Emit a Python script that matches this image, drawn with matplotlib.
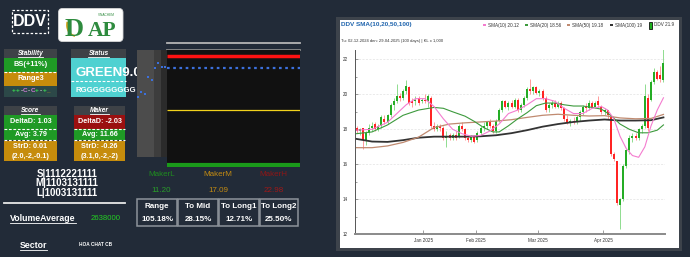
import matplotlib
matplotlib.use('Agg')
import matplotlib.pyplot as plt
from matplotlib.patches import Rectangle, FancyBboxPatch, Arc
import numpy as np

plt.rcParams['font.family'] = ['Liberation Sans', 'DejaVu Sans']

# ---------------- data ----------------
ticker = 'DDV'
stability_lines = ['BS(+11%)', 'Range3']
stability_code = '++-C-C+-+_'
status_main = 'GREEN9.0'
status_seq = 'RGGGGGGGGG'
score_lines = ['DeltaD: 1.03', 'Avg: 3.79', 'StrD: 0.01', '(2.0,-2,-0.1)']
maker_lines = ['DeltaD: -2.03', 'Avg: 11.66', 'StrD: -0.26', '(3.1,0,-2,-2)']
sml_lines = ['S|1112221111', 'M|1103131111', 'L|1003131111']
volume_average = '2638000'
sector = 'HOA CHAT CB'

maker_names = ['MakerL', 'MakerM', 'MakerH']
maker_values = [11.20, 17.09, 22.98]
current_price = 21.66
recent_prices = [18.53, 19.07, 18.85, 20.69, 20.36, 21.65, 22.19, 21.76, 21.76]

table_headers = ['Range', 'To Mid', 'To Long1', 'To Long2']
table_values = ['105.18%', '28.15%', '12.71%', '25.50%']

month_labels = ['Jan 2025', 'Feb 2025', 'Mar 2025', 'Apr 2025']
month_start_idx = [22, 39, 59, 80]

opens = [18.1, 17.9, 18.1, 17.4, 17.8, 18.1, 18.3, 18.0, 18.2, 18.6,
         18.4, 18.8, 19.4, 19.6, 19.9, 19.8, 20.2, 20.4, 19.6, 19.6,
         19.8, 19.6, 19.7, 19.6, 19.8, 18.2, 18.0, 18.2, 18.1, 17.5,
         17.7, 17.5, 17.7, 17.6, 18.2, 18.0, 17.5, 17.4, 17.6, 17.4,
         17.8, 18.1, 18.2, 18.4, 18.2, 17.9, 18.5, 19.1, 19.6, 19.3,
         19.5, 19.3, 19.7, 19.1, 19.4, 19.8, 20.3, 20.2, 20.4, 20.1,
         20.2, 19.8, 19.2, 19.4, 19.5, 19.3, 19.5, 19.2, 18.6, 18.4,
         18.5, 18.4, 18.7, 19.0, 19.3, 19.2, 19.5, 19.3, 19.6, 19.3,
         19.0, 19.1, 18.7, 16.6, 16.2, 13.7, 14.0, 15.9, 16.8, 17.5,
         17.6, 17.5, 18.0, 18.2, 19.8, 19.7, 20.7, 21.3, 21.1, 20.8]
highs = [18.2, 18.1, 18.1, 17.9, 18.3, 18.4, 18.4, 18.3, 18.8, 18.8,
         18.9, 19.5, 19.8, 20.6, 20.1, 20.3, 20.8, 20.5, 19.8, 19.9,
         19.9, 19.8, 20.0, 20.0, 19.9, 18.4, 18.3, 18.3, 18.2, 17.9,
         17.8, 17.8, 17.9, 18.3, 18.4, 18.1, 17.7, 17.7, 17.7, 17.9,
         18.2, 18.4, 18.5, 18.6, 18.3, 18.6, 19.2, 19.7, 19.7, 19.6,
         19.7, 19.8, 19.8, 19.5, 19.9, 20.4, 20.9, 20.5, 20.5, 20.3,
         20.3, 19.9, 19.5, 19.7, 19.7, 19.6, 19.6, 19.3, 18.8, 18.6,
         18.7, 18.8, 19.1, 19.4, 19.5, 19.7, 19.6, 19.6, 19.9, 19.4,
         19.2, 19.1, 18.7, 16.7, 16.2, 14.1, 16.0, 16.9, 17.7, 17.8,
         17.8, 18.1, 18.3, 20.6, 20.0, 20.8, 21.5, 21.4, 21.6, 22.6]
lows = [17.8, 17.7, 16.9, 17.1, 17.7, 17.9, 17.9, 17.9, 18.1, 18.3,
        18.3, 18.7, 19.1, 19.5, 19.6, 19.7, 20.0, 19.4, 19.3, 19.4,
        19.4, 19.5, 19.5, 19.3, 18.1, 17.9, 17.9, 17.9, 17.4, 17.0,
        17.4, 17.4, 17.4, 17.5, 17.9, 17.4, 17.3, 17.3, 17.2, 17.3,
        17.6, 17.9, 18.0, 18.1, 17.8, 17.8, 18.4, 19.0, 19.2, 19.1,
        19.2, 19.2, 19.0, 19.0, 19.3, 19.7, 20.0, 20.0, 20.0, 19.9,
        19.7, 19.0, 19.0, 19.2, 19.2, 19.2, 19.1, 18.5, 18.3, 18.2,
        18.3, 18.3, 18.5, 18.8, 19.0, 19.1, 19.2, 19.2, 19.3, 18.9,
        18.8, 18.6, 16.5, 16.2, 13.7, 12.3, 13.9, 15.8, 16.6, 17.3,
        17.4, 17.4, 17.8, 18.1, 17.9, 19.6, 20.6, 20.8, 20.7, 20.7]
closes = [17.9, 18.0, 17.4, 17.8, 18.1, 18.2, 18.0, 18.2, 18.7, 18.4,
          18.8, 19.4, 19.6, 19.9, 19.8, 20.2, 20.5, 19.5, 19.5, 19.7,
          19.5, 19.7, 19.6, 19.9, 18.2, 18.0, 18.2, 18.1, 17.5, 17.6,
          17.5, 17.7, 17.5, 18.2, 18.0, 17.5, 17.4, 17.6, 17.3, 17.8,
          18.1, 18.2, 18.4, 18.2, 17.9, 18.5, 19.1, 19.6, 19.3, 19.5,
          19.3, 19.7, 19.1, 19.4, 19.8, 20.3, 20.2, 20.4, 20.1, 20.2,
          19.8, 19.1, 19.4, 19.5, 19.3, 19.5, 19.2, 18.6, 18.4, 18.5,
          18.4, 18.7, 19.0, 19.3, 19.2, 19.5, 19.3, 19.5, 19.4, 19.0,
          19.1, 18.8, 16.6, 16.3, 13.8, 14.0, 15.9, 16.8, 17.5, 17.6,
          17.5, 18.0, 18.2, 19.9, 18.1, 20.7, 21.3, 20.9, 20.9, 21.8]

sma10_idx = [0, 5, 10, 13, 16, 19, 22, 25, 28, 31, 34, 37, 40, 43, 46, 49, 52, 55,
             58, 61, 64, 67, 70, 73, 76, 79, 81, 83, 85, 87, 89, 91, 93, 95, 97, 99]
sma10 = [17.95, 18.0, 18.4, 18.9, 19.4, 19.75, 19.75, 19.3, 18.6, 18.0, 17.75, 17.6,
         17.65, 17.9, 18.3, 18.9, 19.1, 19.4, 19.75, 19.75, 19.6, 19.2, 18.9, 18.9,
         19.2, 19.3, 19.1, 18.6, 17.6, 16.9, 16.5, 16.4, 17.0, 18.2, 19.1, 19.8]
sma20_idx = [0, 5, 10, 15, 20, 25, 28, 31, 35, 38, 41, 44, 46, 49, 52, 55, 58, 61,
             64, 67, 70, 73, 76, 79, 82, 85, 88, 91, 94, 97, 99]
sma20 = [17.75, 17.85, 18.25, 18.8, 19.1, 19.25, 19.2, 19.0, 18.75, 18.45, 18.1,
         17.85, 17.85, 18.2, 18.6, 18.95, 19.35, 19.5, 19.5, 19.4, 19.33, 19.33,
         19.25, 19.15, 18.8, 18.3, 18.0, 17.8, 17.8, 17.95, 18.25]
sma50_idx = [0, 5, 10, 15, 20, 25, 30, 35, 40, 45, 50, 55, 60, 65, 70, 75, 80, 85,
             90, 95, 99]
sma50 = [16.95, 16.95, 17.05, 17.25, 17.55, 18.1, 18.3, 18.37, 18.42, 18.47, 18.55,
         18.68, 18.8, 18.86, 18.8, 18.76, 18.78, 18.65, 18.6, 18.62, 18.85]
sma100_idx = sma50_idx
sma100 = [17.45, 17.3, 17.28, 17.38, 17.52, 17.58, 17.58, 17.58, 17.6, 17.66, 17.78,
          17.95, 18.15, 18.3, 18.42, 18.5, 18.56, 18.5, 18.5, 18.52, 18.68]
legend_labels = ['SMA(10) 20.12', 'SMA(20) 18.56', 'SMA(50) 19.18', 'SMA(100) 19', 'DDV 21.9']

# ---------------- figure ----------------
W, H = 690, 257
BG = '#222b38'
fig = plt.figure(figsize=(6.9, 2.57), dpi=100)
fig.patch.set_facecolor(BG)
ax0 = fig.add_axes([0, 0, 1, 1])
ax0.set_xlim(0, W)
ax0.set_ylim(H, 0)
ax0.axis('off')

def fax(x0, y0, x1, y1):
    return fig.add_axes([x0 / W, 1 - y1 / H, (x1 - x0) / W, (y1 - y0) / H])

def rect(x0, y0, x1, y1, fc, ec='none', lw=0, z=1, **kw):
    r = Rectangle((x0, y0), x1 - x0, y1 - y0, facecolor=fc, edgecolor=ec, lw=lw, zorder=z, **kw)
    ax0.add_patch(r)
    return r

def txt(x, y, s, size=6, color='white', weight='bold', ha='center', **kw):
    return ax0.text(x, y, s, fontsize=size, color=color, fontweight=weight, ha=ha,
                    va='center', zorder=5, **kw)

def dash(x0, x1, y):
    ax0.plot([x0, x1], [y, y], color='white', lw=0.8, ls=(0, (2.5, 1.5)), zorder=4)

underlines = []

# ticker box
rect(12, 10, 47.5, 33, 'none', ec='white', lw=0.9, z=3, ls=(0, (2, 1.5)))
txt(29.8, 21.5, ticker, size=11.5)

# logo
logo = FancyBboxPatch((58.5, 8.5), 64.5, 33, boxstyle='round,pad=0,rounding_size=4',
                      facecolor='white', edgecolor='#d8d8d8', lw=0.6, zorder=2)
ax0.add_patch(logo)
ax0.add_patch(Arc((76, 25), 18, 22, theta1=95, theta2=200, color='#d4a017', lw=1.3, zorder=3))
txt(74.5, 29, 'D', size=19, color='#2e8b3e', family='Liberation Serif')
txt(102.5, 31.5, 'AP', size=15.5, color='#2e8b3e', family='Liberation Serif')
txt(106, 15.5, 'VINACHEM', size=2.3, color='#2e8b3e', weight='normal')

# Stability block
rect(4, 49, 57, 57.5, '#3e4247')
t = txt(30.5, 53.2, 'Stability', size=4.8, style='italic'); underlines.append(t)
rect(4, 57.5, 57, 71.5, '#1f9a25')
txt(30.5, 64.5, stability_lines[0], size=5.3)
dash(4, 57, 71.5)
rect(4, 72, 57, 85.5, '#c68c0c')
txt(30.5, 78.8, stability_lines[1], size=5.3)
rect(4, 85.5, 57, 96.5, '#2c4848')
code_colors = {'+': '#39d353', '-': '#c8c8c8', 'C': '#d27ad8', '_': '#e6a21c'}
for i, ch in enumerate(stability_code):
    txt(14 + i * 3.8, 90.5, ch, size=4.6, color=code_colors[ch])

# Status block
rect(71, 49, 126, 57.5, '#3e4247')
t = txt(98.5, 53.2, 'Status', size=4.8, style='italic'); underlines.append(t)
sbox = rect(71, 57.5, 126, 96.5, '#4fd1d1')
t1 = txt(76, 72.5, status_main, size=9.5, ha='left')
t1.set_clip_path(sbox)
dash(71, 126, 81)
t2 = txt(75, 90, status_seq, size=5.6, ha='left')
t2.set_clip_path(sbox)

# Score / Maker blocks
def score_block(x0, x1, title, lines, first_color):
    cx = (x0 + x1) / 2
    rect(x0, 106, x1, 115, '#3e4247')
    t = txt(cx, 110.5, title, size=4.8, style='italic'); underlines.append(t)
    rect(x0, 115, x1, 128.5, first_color)
    txt(cx, 121.8, lines[0], size=5.2)
    dash(x0, x1, 128.5)
    rect(x0, 129, x1, 140, '#1f9a25')
    txt(cx, 134.5, lines[1], size=5.2)
    dash(x0, x1, 140.3)
    rect(x0, 140.8, x1, 161, '#c68c0c')
    txt(cx, 146.5, lines[2], size=5.2)
    txt(cx, 156.3, lines[3], size=5.2)

score_block(4, 57, 'Score', score_lines, '#1f9a25')
score_block(74, 125, 'Maker', maker_lines, '#9b1010')

# S/M/L
for i, s in enumerate(sml_lines):
    txt(67, 173.8 + i * 9.6, s, size=7.0)
ax0.plot([4, 125], [203.3, 203.3], color='#e8e8e8', lw=1.3, zorder=3)

t = txt(43, 218.3, 'VolumeAverage', size=6.3); underlines.append(t)
txt(106, 218.3, volume_average, size=5.6, color='#22d022', weight='normal')
t = txt(33.5, 245, 'Sector', size=6.3); underlines.append(t)
txt(96, 245, sector, size=3.4)

# ---------------- middle ladder ----------------
ax0.plot([167, 300], [43, 43], color='#b5b5b5', lw=1.3, zorder=3)
ax0.plot([167, 300], [50.3, 50.3], color='#8c8c8c', lw=1.3, zorder=3)

axl = fax(137, 50, 300, 167)
axl.set_xlim(137, 300)
axl.set_ylim(10.98, 23.59)
axl.axis('off')
axl.patch.set_alpha(0)
xt = axl.get_xaxis_transform()
axl.add_patch(Rectangle((167, 0), 133, 1, transform=xt, facecolor='#111111', zorder=0))
axl.add_patch(Rectangle((137, 0.085), 17, 0.915, transform=xt, facecolor='#4c4c4c', zorder=0))
axl.add_patch(Rectangle((154, 0.085), 7, 0.915, transform=xt, facecolor='#3d3d3d', zorder=0))
axl.add_patch(Rectangle((161, 0.085), 6, 0.915, transform=xt, facecolor='#2b2b2b', zorder=0))
axl.hlines(maker_values[2], 167, 300, color='#ff1212', lw=2.5)
axl.hlines(maker_values[0], 167, 300, color='#1a9a1a', lw=3.0)
axl.hlines(maker_values[1], 167, 300, color='#f2d21c', lw=0.9)
axl.hlines(current_price, 167, 300, color='#3c70dc', lw=1.6, linestyles=(0, (1.2, 1.6)))
axl.scatter(np.linspace(138, 165, len(recent_prices)), recent_prices, marker='s', s=2.2,
            color='#3c70dc', zorder=3, linewidths=0)

maker_colors = ['#1f8c1f', '#c38b12', '#8e1616']
value_colors = ['#2a9e2a', '#c38b12', '#a01818']
for x, n, v, c1, c2 in zip([161.5, 218, 273.5], maker_names, maker_values, maker_colors, value_colors):
    txt(x, 175, n, size=5.8, color=c1, weight='normal')
    txt(x, 190, f'{v:.2f}', size=5.8, color=c2, weight='normal')

cell_x = [136.7, 177.7, 218.3, 259.3, 298.3]
for j, (h, v) in enumerate(zip(table_headers, table_values)):
    rect(cell_x[j] + 0.6, 198.5, cell_x[j + 1] - 0.6, 225.5, '#232c39', ec='#8d939a', lw=1.1, z=2)
    cx = (cell_x[j] + cell_x[j + 1]) / 2
    txt(cx, 206.7, h, size=5.8)
    txt(cx, 219.2, v, size=5.8)

# ---------------- right chart ----------------
rect(336, 17, 681.5, 251, '#3d434b', z=1)
rect(339.5, 20, 678.5, 248, 'white', z=1)
txt(341, 24.8, 'DDV SMA(10,20,50,100)', size=4.6, color='#1f64ad', ha='left')
txt(341, 41, 'Tu: 02-12-2024 den: 29-04-2025 (100 days) | KL x 1,000', size=3.0,
    color='#333333', weight='normal', ha='left')

sma_colors = ['#f47ccf', '#3d9a3d', '#c08a70', '#333333']
leg_x = [484, 526, 568, 611]
for x, c, lab in zip(leg_x, sma_colors, legend_labels[:4]):
    rect(x - 1.5, 23.5, x + 1.5, 26.3, c, z=3)
    txt(x + 4, 25, lab, size=3.3, color='#333333', weight='normal', ha='left')
rect(648.5, 21.5, 651.5, 28.5, '#1fb01f', ec='#111111', lw=0.6, z=3)
txt(654.5, 25, legend_labels[4], size=3.3, color='#333333', weight='normal', ha='left')

axc = fax(355, 49.5, 665, 234.3)
axc.set_facecolor('white')
axc.set_xlim(-0.5, 99.5)
axc.set_ylim(12, 22.56)
idx = np.arange(len(closes))
o = np.array(opens); c = np.array(closes); hi = np.array(highs); lo = np.array(lows)
up = c >= o
for mask, body_c, wick_c in [(up, '#25ad25', '#8fdc8f'), (~up, '#ff2424', '#ff9a9a')]:
    axc.vlines(idx[mask], lo[mask], hi[mask], color=wick_c, lw=0.7, zorder=2)
    axc.bar(idx[mask], np.maximum(np.abs(c[mask] - o[mask]), 0.06),
            bottom=np.minimum(c[mask], o[mask]), width=0.62, color=body_c, zorder=3,
            linewidth=0)
axc.plot(sma100_idx, sma100, color=sma_colors[3], lw=1.3, zorder=4)
axc.plot(sma50_idx, sma50, color=sma_colors[2], lw=0.9, zorder=4)
axc.plot(sma20_idx, sma20, color=sma_colors[1], lw=0.8, zorder=4)
axc.plot(sma10_idx, sma10, color=sma_colors[0], lw=0.8, zorder=4)

axc.set_yticks(range(12, 23, 2))
axc.set_yticks(range(13, 23, 2), minor=True)
axc.set_xticks([m - 0.5 for m in month_start_idx])
axc.set_xticklabels(month_labels)
axc.tick_params(axis='both', which='both', direction='in', labelsize=3.3, labelcolor='#333333',
                color='#777777', width=0.5)
axc.tick_params(axis='y', which='major', length=2.5, pad=5)
axc.tick_params(axis='y', which='minor', length=1.5)
axc.tick_params(axis='x', length=3, pad=3)
axc.grid(axis='y', color='#e2e2e2', lw=0.5, ls=(0, (3, 2)))
axc.set_axisbelow(True)
for s in ['top', 'right']:
    axc.spines[s].set_visible(False)
axc.spines['left'].set_color('#555555')
axc.spines['left'].set_linewidth(0.7)
axc.spines['bottom'].set_color('#8a8a8a')
axc.spines['bottom'].set_linewidth(1.4)

# underlines
fig.canvas.draw()
for t in underlines:
    bb = t.get_window_extent()
    yy = H - bb.y0 + 0.3
    ax0.plot([bb.x0, bb.x1], [yy, yy], color='white', lw=0.6, zorder=6)

fig.savefig('out.png', dpi=100, facecolor=BG)
